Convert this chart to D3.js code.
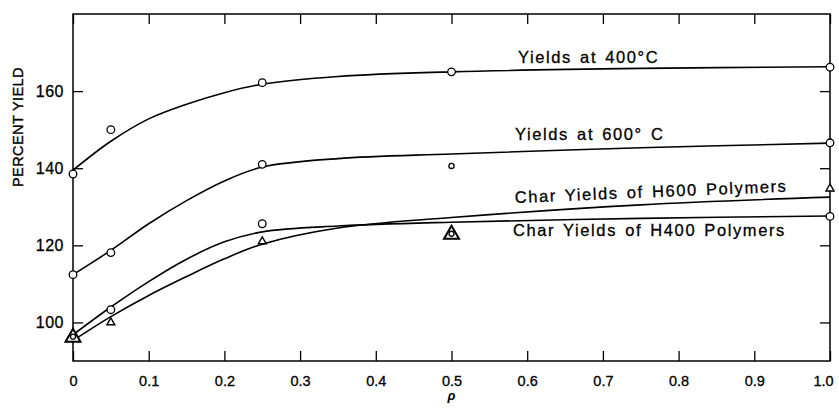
<!DOCTYPE html>
<html><head><meta charset="utf-8">
<script src="https://cdn.jsdelivr.net/npm/d3@7"></script>
<style>body{margin:0;background:#fff}svg{display:block}</style>
</head><body>
<svg id="c" width="839" height="409"></svg>
<script>
// ---- data ----
const rhoTicks = [0, 0.1, 0.2, 0.3, 0.4, 0.5, 0.6, 0.7, 0.8, 0.9, 1.0];
const rhoTickLabels = ["0", "0.1", "0.2", "0.3", "0.4", "0.5", "0.6", "0.7", "0.8", "0.9", "1.0"];
const yTicks = [100, 120, 140, 160];
const yTickLabels = ["100", "120", "140", "160"];

// measured points
const rhoPts = [0, 0.05, 0.25, 0.5, 1.0];
const yields400 = [138.5, 150.0, 162.2, 165.0, 166.2];
const yields600 = [112.4, 118.1, 141.0, 140.6, 146.6];
const charH400 = [96.3, 103.3, 125.6, 123.0, 127.5];   // circles
const charH600 = [96.3, 100.3, 121.3, 123.0, 135.0];   // triangles

// hand-drawn fitted curves
const fitRho = [0, 0.05, 0.1, 0.15, 0.2, 0.25, 0.35, 0.5, 0.75, 1.0];
const fit400  = [139.5, 147.0, 152.8, 156.6, 159.6, 161.8, 163.8, 165.0, 165.9, 166.3];
const fit600  = [112.4, 118.7, 125.6, 131.6, 136.7, 140.3, 142.5, 143.7, 145.3, 146.5];
const fitH400 = [96.8, 104.0, 110.6, 116.4, 120.9, 123.5, 125.0, 126.0, 127.0, 127.6];
const fitH600 = [95.3, 101.5, 107.0, 111.9, 116.5, 120.3, 124.5, 127.2, 130.5, 132.5];

const curveLabels = ["Yields at 400°C", "Yields at 600° C", "Char Yields of H600 Polymers", "Char Yields of H400 Polymers"];
const xTitle = "ρ";
const yTitle = "PERCENT YIELD";

// ---- drawing ----
const svg = d3.select("#c");
const FONT = "'Liberation Sans', Arial, sans-serif";
const L = 73, R = 830, T = 14, B = 361;
const x = d3.scaleLinear().domain([0, 1]).range([L, R]);
const y = d3.scaleLinear().domain([90, 180]).range([B, T]);

// axes (ticks inward on all four sides)
const gb = svg.append("g").attr("transform", `translate(0,${B})`)
  .call(d3.axisBottom(x).tickValues(rhoTicks).tickSize(-10).tickPadding(15)
        .tickFormat((d, i) => rhoTickLabels[i]));
const gt = svg.append("g").attr("transform", `translate(0,${T})`)
  .call(d3.axisTop(x).tickValues(rhoTicks).tickSize(-10).tickFormat(""));
const gl = svg.append("g").attr("transform", `translate(${L},0)`)
  .call(d3.axisLeft(y).tickValues(yTicks).tickSize(-10).tickPadding(9)
        .tickFormat((d, i) => yTickLabels[i]));
const gr = svg.append("g").attr("transform", `translate(${R},0)`)
  .call(d3.axisRight(y).tickValues(yTicks).tickSize(-10).tickFormat(""));
[gb, gt, gl, gr].forEach(g => {
  g.select(".domain").remove();
  g.selectAll(".tick line").attr("stroke", "#000").attr("stroke-width", 1.3);
});
gb.selectAll(".tick text").attr("font-family", FONT).attr("font-size", 14.5).attr("fill", "#000")
  .attr("stroke", "#000").attr("stroke-width", 0.3)
  .attr("dx", d => d === 1 ? -7 : 0);
gl.selectAll(".tick text").attr("font-family", FONT).attr("font-size", 16).attr("fill", "#000")
  .attr("stroke", "#000").attr("stroke-width", 0.3).attr("letter-spacing", 0.5);

// frame
svg.append("rect").attr("x", L).attr("y", T).attr("width", R - L).attr("height", B - T)
  .attr("fill", "none").attr("stroke", "#000").attr("stroke-width", 1.5);

// titles
svg.append("text").attr("transform", `translate(23,127) rotate(-90)`)
  .attr("text-anchor", "middle").attr("font-family", FONT).attr("font-size", 14.5)
  .attr("stroke", "#000").attr("stroke-width", 0.35)
  .attr("letter-spacing", 0.4).text(yTitle);
svg.append("text").attr("x", x(0.5)).attr("y", 400).attr("text-anchor", "middle")
  .attr("font-family", FONT).attr("font-size", 13).attr("font-style", "italic")
  .attr("font-weight", "bold").text(xTitle);

// curves
const line = d3.line().x((d, i) => x(fitRho[i])).y(d => y(d)).curve(d3.curveCatmullRom.alpha(0.5));
[fit400, fit600, fitH400, fitH600].forEach(f => {
  svg.append("path").attr("d", line(f)).attr("fill", "none")
    .attr("stroke", "#000").attr("stroke-width", 1.6);
});

// markers
function circles(vals, rFn) {
  svg.append("g").selectAll("circle").data(vals).join("circle")
    .attr("cx", (d, i) => x(rhoPts[i])).attr("cy", d => y(d))
    .attr("r", (d, i) => rFn(i))
    .attr("fill", "#fff").attr("stroke", "#000").attr("stroke-width", 1.3);
}
circles(yields400, () => 3.8);
circles(yields600, i => rhoPts[i] === 0.5 ? 2.6 : 3.8);

// triangles (large where a circle coincides)
const big = charH600.map((v, i) => v === charH400[i]);
svg.append("g").selectAll("path").data(charH600).join("path")
  .attr("d", (d, i) => {
    const cx = x(rhoPts[i]), cy = y(d);
    const w = big[i] ? 15 : 8, h = big[i] ? 13 : 7;
    const base = cy + (big[i] ? 5 : 3.5);
    return `M${cx - w / 2},${base}L${cx + w / 2},${base}L${cx},${base - h}Z`;
  })
  .attr("fill", "#fff").attr("stroke", "#000").attr("stroke-width", (d, i) => big[i] ? 2 : 1.4);
circles(charH400, i => big[i] ? 2.5 : 3.8);

// curve labels
const lab = (t, x0, y0, rot) => svg.append("text")
  .attr("transform", `translate(${x0},${y0}) rotate(${rot || 0})`)
  .attr("font-family", FONT).attr("font-size", 16.5).attr("letter-spacing", 1.6)
  .attr("stroke", "#000").attr("stroke-width", 0.3)
  .attr("word-spacing", 2).text(t);
lab(curveLabels[0], 518, 62.5);
lab(curveLabels[1], 515, 139.5);
lab(curveLabels[2], 515, 203, -2.4);
lab(curveLabels[3], 513, 236);
</script>
</body></html>
